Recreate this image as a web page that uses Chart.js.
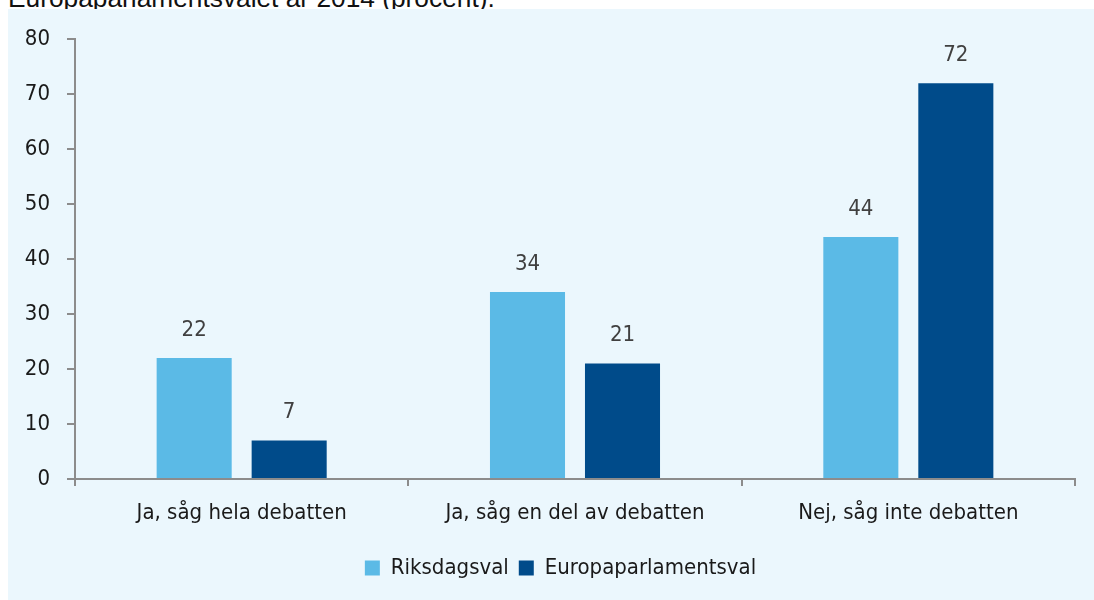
<!DOCTYPE html>
<html>
<head>
<meta charset="utf-8">
<script src="https://cdn.jsdelivr.net/npm/chart.js@4.4.0/dist/chart.umd.min.js"></script>
<style>
  html, body { margin: 0; padding: 0; background: #ffffff; width: 1094px; height: 600px; overflow: hidden; position: relative; }
  #title { position: absolute; left: 8px; top: -15px; font-family: "Liberation Sans", Arial, sans-serif; font-size: 26.3px; line-height: 26px; color: #111; white-space: nowrap; z-index: 1; }
  #wrap { position: absolute; left: 8px; top: 9px; width: 1086px; height: 591px; background: #ebf7fd; z-index: 2; }
  canvas { display: block; }
</style>
</head>
<body>
<div id="title">Europaparlamentsvalet år 2014 (procent).</div>
<div id="wrap"><canvas id="c" width="1086" height="591"></canvas></div>
<script>
const categories = ["Ja, såg hela debatten", "Ja, såg en del av debatten", "Nej, såg inte debatten"];
const seriesNames = ["Riksdagsval", "Europaparlamentsval"];
const riksdagsval = [22, 34, 44];
const europaparlamentsval = [7, 21, 72];
const yTicks = [0, 10, 20, 30, 40, 50, 60, 70, 80];

const FONT = '"DejaVu Sans Condensed", "Liberation Sans Narrow", sans-serif';
const AXIS = '#8c8c8c';

const valueLabels = {
  id: 'valueLabels',
  afterDatasetsDraw(chart) {
    const ctx = chart.ctx;
    ctx.save();
    ctx.font = '22px ' + FONT;
    ctx.fillStyle = '#404040';
    ctx.textAlign = 'center';
    ctx.textBaseline = 'middle';
    chart.data.datasets.forEach((ds, i) => {
      const meta = chart.getDatasetMeta(i);
      meta.data.forEach((bar, j) => {
        ctx.fillText(String(ds.data[j]), bar.x, bar.y - 28);
      });
    });
    ctx.restore();
  }
};

const shiftLegend = {
  id: 'shiftLegend',
  afterLayout(chart) {
    const l = chart.legend;
    if (l) { l.left += 19; l.right += 19; }
  }
};

new Chart(document.getElementById('c'), {
  type: 'bar',
  data: {
    labels: categories,
    datasets: [
      { label: seriesNames[0], data: riksdagsval, backgroundColor: '#5bbae6', categoryPercentage: 0.57, barPercentage: 0.79 },
      { label: seriesNames[1], data: europaparlamentsval, backgroundColor: '#004b8a', categoryPercentage: 0.57, barPercentage: 0.79 }
    ]
  },
  options: {
    responsive: false,
    animation: false,
    layout: { padding: { left: 0, right: 19, top: 30, bottom: 11 } },
    plugins: {
      legend: {
        position: 'bottom',
        labels: {
          font: { family: FONT, size: 22 },
          color: '#1a1a1a',
          boxWidth: 15,
          boxHeight: 15,
          padding: 10
        }
      },
      tooltip: { enabled: false },
      title: { display: false }
    },
    scales: {
      x: {
        grid: { display: true, drawOnChartArea: false, drawTicks: true, tickLength: 7, color: AXIS, lineWidth: 2, offset: true },
        border: { display: true, color: AXIS, width: 2 },
        ticks: { font: { family: FONT, size: 22 }, color: '#1a1a1a', padding: 14, maxRotation: 0 },
        afterFit(scale) { scale.height = 68; }
      },
      y: {
        min: 0, max: 80,
        afterBuildTicks(scale) { scale.ticks = yTicks.map(v => ({ value: v })); },
        grid: { display: true, drawOnChartArea: false, drawTicks: true, tickLength: 8, color: AXIS, lineWidth: 2 },
        border: { display: true, color: AXIS, width: 2 },
        ticks: { font: { family: FONT, size: 22 }, color: '#1a1a1a', padding: 17 },
        afterFit(scale) { scale.width = 67; }
      }
    }
  },
  plugins: [valueLabels, shiftLegend]
});
</script>
</body>
</html>
